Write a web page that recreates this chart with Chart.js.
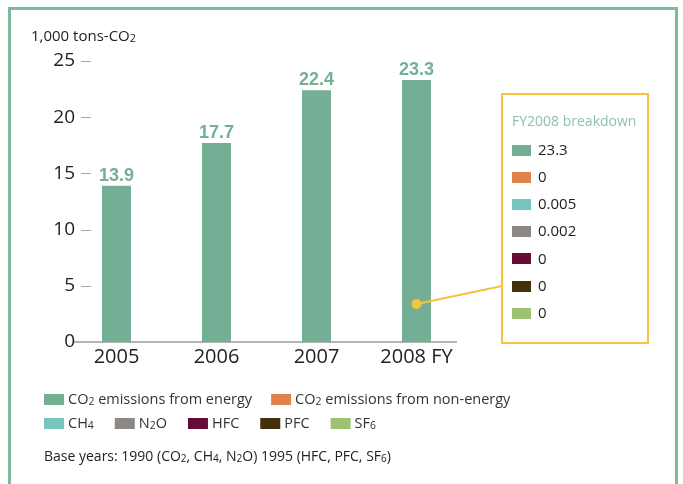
<!DOCTYPE html>
<html>
<head>
<meta charset="utf-8">
<script src="https://cdn.jsdelivr.net/npm/chart.js@4.4.1/dist/chart.umd.min.js"></script>
<style>
html, body { margin: 0; padding: 0; background: #fff; overflow: hidden; }
#wrap { position: relative; width: 683px; height: 484px; }
#frame { position: absolute; left: 8px; top: 7px; width: 664px; height: 500px; border: 3px solid #7dbb9d; }
#chart { position: absolute; left: 0; top: 0; }
</style>
</head>
<body>
<div id="wrap">
  <div id="frame"></div>
  <canvas id="chart" width="683" height="484"></canvas>
</div>
<script>
// datos del grafico
const years = ['2005', '2006', '2007', '2008 FY'];
const totals = [13.9, 17.7, 22.4, 23.3];
const yTicks = [0, 5, 10, 15, 20, 25];
const gasNames = ['CO₂ emissions from energy', 'CO₂ emissions from non-energy', 'CH₄', 'N₂O', 'HFC', 'PFC', 'SF₆'];
const gasColors = ['#74af95', '#e0834a', '#77c5bf', '#8c8884', '#690b37', '#45300d', '#9bc372'];
const breakdown2008 = [23.3, 0, 0.005, 0.002, 0, 0, 0];
const unitLabel = '1,000 tons-CO₂';
const breakdownTitle = 'FY2008 breakdown';
const noteText = 'Base years: 1990 (CO₂, CH₄, N₂O) 1995 (HFC, PFC, SF₆)';

const FONT = "'Open Sans', sans-serif";
const GREEN = '#74af95';
const YELLOW = '#f6c43c';
const SUBS = '₀₁₂₃₄₅₆₇₈₉';

// texto con subindices dibujados a mano (baseline middle)
function richText(ctx, text, x, y, size) {
    const parts = [];
    for (const ch of text) {
        const sub = SUBS.indexOf(ch) >= 0;
        const c = sub ? String(SUBS.indexOf(ch)) : ch;
        if (parts.length && parts[parts.length - 1].sub === sub) parts[parts.length - 1].t += c;
        else parts.push({ t: c, sub: sub });
    }
    let cx = x;
    parts.forEach(p => {
        const s = p.sub ? size * 0.72 : size;
        ctx.font = s + 'px ' + FONT;
        ctx.fillText(p.t, cx, p.sub ? y + size * 0.16 : y);
        cx += ctx.measureText(p.t).width;
    });
    ctx.font = size + 'px ' + FONT;
    return cx - x;
}

// dibuja ejes, etiquetas, recuadro del desglose y leyenda
const extrasPlugin = {
    id: 'extras',
    afterDatasetsDraw(chart) {
        const ctx = chart.ctx;
        const yScale = chart.scales.y;
        const meta = chart.getDatasetMeta(0);
        const zeroY = yScale.getPixelForValue(0);
        ctx.save();

        // linea del eje x
        ctx.strokeStyle = '#9a9a9a';
        ctx.lineWidth = 1.5;
        ctx.beginPath();
        ctx.moveTo(74, zeroY);
        ctx.lineTo(457, zeroY);
        ctx.stroke();

        // ticks del eje y
        ctx.font = '19px ' + FONT;
        ctx.fillStyle = '#222';
        ctx.textAlign = 'right';
        ctx.textBaseline = 'middle';
        yTicks.forEach(v => {
            const y = yScale.getPixelForValue(v);
            ctx.fillText(String(v), 75, y);
            if (v > 0) {
                ctx.strokeStyle = '#aaa';
                ctx.lineWidth = 1;
                ctx.beginPath();
                ctx.moveTo(81, Math.round(y) + 0.5);
                ctx.lineTo(91, Math.round(y) + 0.5);
                ctx.stroke();
            }
        });

        // unidad
        ctx.textAlign = 'left';
        richText(ctx, unitLabel, 31, 37, 15);

        // valores encima de las barras
        ctx.font = "bold 18px 'Liberation Sans', sans-serif";
        ctx.fillStyle = '#74b096';
        ctx.textAlign = 'center';
        ctx.textBaseline = 'alphabetic';
        meta.data.forEach((bar, i) => {
            ctx.fillText(totals[i].toFixed(1), bar.x, bar.y - 5);
        });

        // conector y recuadro del desglose
        const lastBar = meta.data[meta.data.length - 1];
        const dotX = lastBar.x, dotY = zeroY - 38;
        const box = { x: 502, y: 94, w: 146, h: 249 };
        ctx.strokeStyle = YELLOW;
        ctx.lineWidth = 2;
        ctx.beginPath();
        ctx.moveTo(dotX, dotY);
        ctx.lineTo(box.x, 286);
        ctx.stroke();
        ctx.fillStyle = YELLOW;
        ctx.beginPath();
        ctx.arc(dotX, dotY, 5, 0, Math.PI * 2);
        ctx.fill();
        ctx.strokeRect(box.x, box.y, box.w, box.h);

        ctx.textAlign = 'left';
        ctx.textBaseline = 'middle';
        ctx.font = '14px ' + FONT;
        ctx.fillStyle = '#8fc2ab';
        ctx.fillText(breakdownTitle, 512, 122);
        breakdown2008.forEach((v, i) => {
            const cy = 149.5 + i * 27.2;
            ctx.fillStyle = gasColors[i];
            ctx.fillRect(512, Math.round(cy - 5), 19, 11);
            ctx.fillStyle = '#222';
            ctx.font = '15px ' + FONT;
            ctx.fillText(String(v), 538, cy + 1);
        });

        // leyenda inferior
        const rows = [[0, 1], [2, 3, 4, 5, 6]];
        const rowY = [399, 423];
        const rowGap = [19, 21];
        rows.forEach((row, r) => {
            let x = 44;
            row.forEach(i => {
                ctx.fillStyle = gasColors[i];
                ctx.fillRect(x, rowY[r] - 5, 20, 11);
                ctx.fillStyle = '#333';
                const w = richText(ctx, gasNames[i], x + 24, rowY[r] + 1, 14.5);
                x += 24 + w + rowGap[r];
            });
        });

        // nota
        ctx.fillStyle = '#222';
        richText(ctx, noteText, 44, 457, 14);
        ctx.restore();
    }
};

const ctx = document.getElementById('chart').getContext('2d');
const chart = new Chart(ctx, {
    type: 'bar',
    data: {
        labels: years,
        datasets: [{
            label: gasNames[0],
            data: totals,
            backgroundColor: GREEN,
            barPercentage: 0.29,
            categoryPercentage: 1
        }]
    },
    options: {
        responsive: false,
        animation: false,
        layout: { padding: { left: 66.5, right: 216.5, top: 61, bottom: 102 } },
        plugins: {
            legend: { display: false },
            tooltip: { enabled: false }
        },
        scales: {
            x: {
                grid: { display: false, drawTicks: false },
                border: { display: false },
                ticks: { font: { family: FONT, size: 20 }, color: '#222', padding: 3, maxRotation: 0 },
                afterFit: scale => { scale.height = 40; }
            },
            y: { display: false, min: 0, max: 25 }
        }
    },
    plugins: [extrasPlugin]
});
</script>
</body>
</html>
